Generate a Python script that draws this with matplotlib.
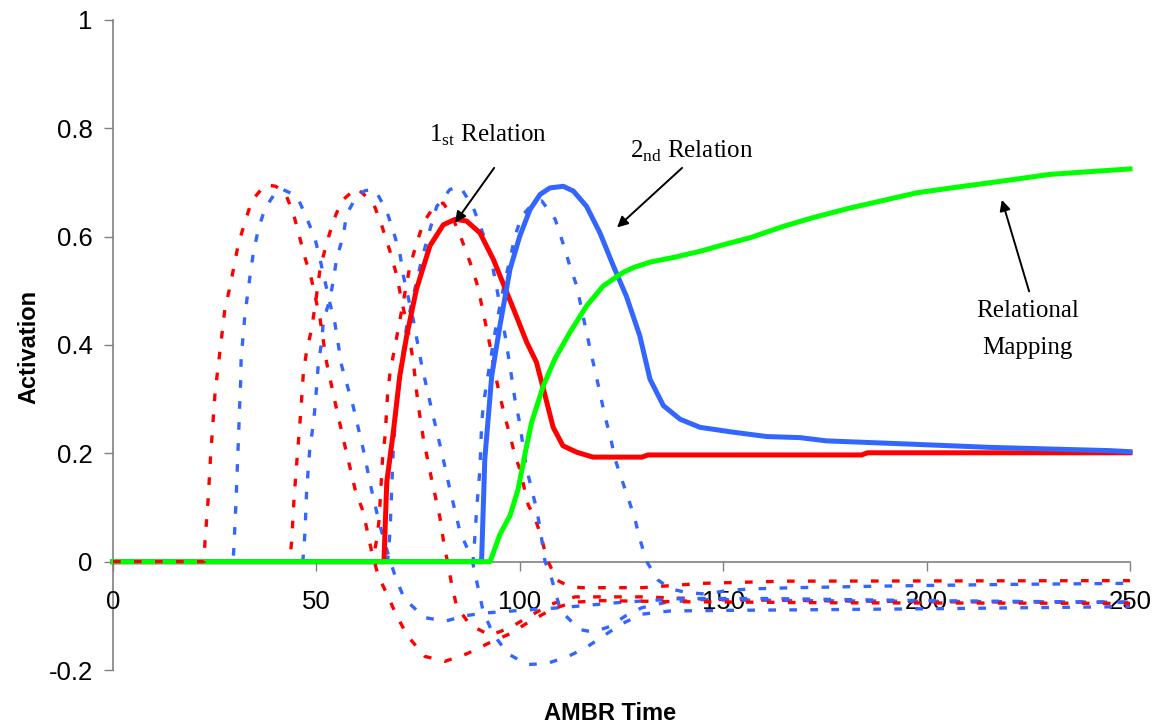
import matplotlib
matplotlib.use("Agg")
import matplotlib.pyplot as plt

# ---------------- data ----------------
# solid: 1st relation (red)
rel1_x = [0, 66.6, 67.3, 68.9, 70.5, 72.2, 74.6, 77.9, 81.2, 84.1, 86.9, 90.2, 93.5, 96.8,
          98.8, 101.7, 104.1, 105.8, 108.2, 110.6, 114.0, 118.0, 130.0, 131.5, 184.0, 185.5, 250]
rel1_y = [0, 0, 0.147, 0.239, 0.343, 0.417, 0.503, 0.583, 0.622, 0.632, 0.629, 0.607, 0.558, 0.497,
          0.460, 0.405, 0.368, 0.319, 0.248, 0.214, 0.202, 0.193, 0.193, 0.197, 0.197, 0.201, 0.201]

# solid: 2nd relation (blue)
rel2_x = [0, 90.6, 91.4, 93.1, 95.1, 97.6, 100.0, 102.5, 105.0, 107.4, 110.7, 113.2, 116.4, 119.7,
          123.0, 126.2, 129.5, 132.0, 135.3, 139.4, 144.3, 152.5, 160.7, 168.9, 175.4, 196.0, 215.6,
          245.0, 250]
rel2_y = [0, 0, 0.190, 0.343, 0.435, 0.540, 0.601, 0.650, 0.678, 0.690, 0.693, 0.684, 0.656, 0.607,
          0.546, 0.490, 0.417, 0.337, 0.288, 0.263, 0.248, 0.239, 0.231, 0.229, 0.223, 0.217, 0.211,
          0.205, 0.203]

# solid: relational mapping (green)
map_x = [0, 92.7, 95.1, 97.6, 99.6, 101.3, 102.9, 105.8, 108.6, 112.3, 116.4, 120.5, 125.4, 128.0,
         132.0, 138.0, 144.3, 150.0, 156.6, 164.8, 172.0, 181.2, 190.0, 197.6, 208.0, 218.0, 230.3,
         240.0, 250]
map_y = [0, 0, 0.050, 0.085, 0.134, 0.200, 0.257, 0.325, 0.374, 0.423, 0.472, 0.509, 0.534, 0.543,
         0.553, 0.562, 0.573, 0.585, 0.598, 0.619, 0.635, 0.653, 0.668, 0.681, 0.692, 0.702, 0.715,
         0.720, 0.725]

# dotted red candidates
r1_x = [0, 22.4, 22.6, 23.4, 24.0, 25.1, 26.3, 27.5, 28.8, 30.8, 32.4, 34.1, 37.4, 40.0, 42.3, 44.3,
        47.2, 48.8, 50.9, 52.5, 54.6, 57.0, 59.5, 61.5, 63.6, 65.2, 67.6, 69.8, 72.5, 76.7, 81.6, 87.0,
        92.2, 97.6, 102.5, 107.9, 113.0, 120.0, 140.0, 180.0, 250]
r1_y = [0, 0, 0.036, 0.116, 0.196, 0.313, 0.389, 0.466, 0.509, 0.586, 0.626, 0.666, 0.696, 0.693,
        0.681, 0.644, 0.561, 0.521, 0.448, 0.368, 0.294, 0.214, 0.134, 0.092, 0.018, -0.026, -0.064,
        -0.101, -0.138, -0.175, -0.184, -0.170, -0.151, -0.133, -0.110, -0.088, -0.075, -0.072,
        -0.074, -0.076, -0.077]

r2_x = [0, 43.4, 43.9, 44.5, 45.3, 46.1, 46.8, 47.6, 48.8, 49.9, 51.0, 52.5, 54.0, 56.2, 59.9, 64.0,
        66.0, 68.0, 69.7, 71.0, 72.5, 73.8, 75.0, 76.3, 78.3, 80.4, 81.3, 82.4, 83.3, 84.5, 87.8, 92.7,
        97.6, 102.5, 107.9, 113.6, 130.0, 150.0, 200.0, 250]
r2_y = [0, 0, 0.036, 0.116, 0.196, 0.270, 0.349, 0.389, 0.429, 0.484, 0.546, 0.586, 0.626, 0.666,
        0.690, 0.662, 0.622, 0.575, 0.530, 0.480, 0.430, 0.370, 0.290, 0.227, 0.153, 0.080, 0.035,
        -0.007, -0.044, -0.083, -0.117, -0.136, -0.122, -0.100, -0.078, -0.065, -0.065, -0.070,
        -0.074, -0.075]

r3_x = [0, 63.8, 64.8, 65.4, 66.3, 66.9, 67.5, 68.1, 70.1, 73.0, 74.7, 76.3, 78.7, 80.4, 81.2, 83.5,
        85.7, 87.8, 89.4, 90.6, 91.7, 92.7, 93.7, 95.1, 96.6, 97.6, 98.8, 100.0, 102.1, 103.7, 105.4,
        106.6, 109.1, 112.0, 115.0, 130.0, 145.0, 165.0, 250]
r3_y = [0, 0, 0.040, 0.076, 0.195, 0.233, 0.309, 0.349, 0.429, 0.546, 0.589, 0.626, 0.653, 0.660,
        0.662, 0.635, 0.595, 0.552, 0.515, 0.475, 0.435, 0.398, 0.355, 0.306, 0.260, 0.233, 0.196,
        0.171, 0.104, 0.082, 0.042, 0.006, -0.034, -0.045, -0.048, -0.048, -0.040, -0.036, -0.035]

# dotted blue candidates
b1_x = [0, 29.5, 29.7, 30.2, 30.6, 30.8, 31.2, 31.4, 31.5, 32.0, 32.4, 33.1, 33.8, 34.5, 35.7, 37.4,
        40.2, 41.5, 45.2, 47.6, 49.7, 50.9, 52.1, 53.3, 54.6, 56.2, 59.1, 61.5, 63.6, 65.5, 67.7, 69.5,
        71.6, 76.5, 81.6, 86.5, 91.0, 100.0, 110.0, 125.0, 140.0, 160.0, 200.0, 250]
b1_y = [0, 0, 0.024, 0.104, 0.180, 0.220, 0.300, 0.337, 0.377, 0.417, 0.454, 0.494, 0.534, 0.570,
        0.613, 0.653, 0.684, 0.688, 0.675, 0.635, 0.595, 0.558, 0.518, 0.478, 0.438, 0.362, 0.285,
        0.208, 0.131, 0.070, 0.012, -0.030, -0.068, -0.103, -0.110, -0.100, -0.095, -0.090, -0.085,
        -0.075, -0.068, -0.068, -0.072, -0.075]

b2_x = [0, 46.6, 46.8, 47.2, 47.6, 48.0, 48.4, 49.2, 49.7, 50.5, 51.3, 51.7, 53.3, 54.2, 55.0, 56.6,
        57.4, 59.9, 62.0, 64.4, 67.3, 68.9, 70.5, 71.4, 73.8, 75.9, 78.3, 80.8, 82.8, 85.3, 88.2, 91.0,
        93.4, 97.1, 101.8, 106.7, 111.8, 116.0, 121.0, 125.0, 130.0, 137.0, 150.0, 200.0, 250]
b2_y = [0, 0, 0.012, 0.055, 0.131, 0.171, 0.211, 0.251, 0.288, 0.368, 0.405, 0.444, 0.484, 0.521,
        0.561, 0.601, 0.641, 0.675, 0.685, 0.687, 0.647, 0.610, 0.570, 0.527, 0.447, 0.362, 0.282,
        0.202, 0.134, 0.055, 0.006, -0.092, -0.133, -0.170, -0.190, -0.188, -0.175, -0.160, -0.135,
        -0.115, -0.097, -0.091, -0.090, -0.087, -0.083]

b3_x = [0, 67.5, 68.1, 68.9, 69.7, 71.0, 72.2, 73.8, 75.9, 77.9, 79.6, 82.8, 85.3, 88.6, 92.7, 94.7,
        96.4, 97.6, 98.8, 100.0, 100.9, 101.7, 102.9, 104.1, 105.0, 106.2, 107.4, 110.0, 114.6, 118.0,
        122.0, 126.0, 130.0, 136.0, 145.0, 170.0, 250]
b3_y = [0, 0, 0.055, 0.208, 0.288, 0.368, 0.435, 0.490, 0.558, 0.613, 0.656, 0.687, 0.693, 0.653,
        0.570, 0.490, 0.417, 0.360, 0.300, 0.255, 0.208, 0.171, 0.134, 0.098, 0.061, 0.000, -0.020,
        -0.090, -0.125, -0.130, -0.120, -0.100, -0.085, -0.075, -0.070, -0.072, -0.075]

b4_x = [0, 88.5, 89.0, 89.4, 89.8, 90.2, 90.6, 91.0, 91.9, 92.7, 93.5, 94.3, 96.4, 97.6, 98.8, 100.5,
        102.5, 105.4, 108.7, 110.7, 112.3, 114.0, 115.2, 117.3, 119.7, 120.9, 122.2, 123.4, 125.0,
        126.7, 128.3, 129.5, 131.2, 134.0, 137.0, 141.0, 146.0, 151.0, 158.0, 168.0, 190.0, 220.0, 250]
b4_y = [0, 0, 0.050, 0.098, 0.134, 0.171, 0.251, 0.288, 0.331, 0.368, 0.405, 0.441, 0.521, 0.558,
        0.601, 0.638, 0.655, 0.666, 0.632, 0.586, 0.546, 0.509, 0.466, 0.392, 0.312, 0.269, 0.233,
        0.190, 0.153, 0.116, 0.079, 0.042, 0.000, -0.034, -0.050, -0.057, -0.060, -0.053, -0.050,
        -0.048, -0.045, -0.042, -0.040]

x_ticks = [0, 50, 100, 150, 200, 250]
y_ticks = [-0.2, 0, 0.2, 0.4, 0.6, 0.8, 1]
y_tick_labels = ["-0.2", "0", "0.2", "0.4", "0.6", "0.8", "1"]

# ---------------- drawing ----------------
RED = "#FF0000"
BLUE = "#3366FF"
GREEN = "#00FF00"
AXIS_GRAY = "#808080"
SANS = ["Liberation Sans", "DejaVu Sans"]
SERIF = ["Liberation Serif", "DejaVu Serif"]

W, H = 1158, 727
fig = plt.figure(figsize=(W / 100, H / 100), dpi=100)
left, right, top, bottom = 113, 1130, 20, 670
ax = fig.add_axes([left / W, 1 - bottom / H, (right - left) / W, (bottom - top) / H])
ax.set_xlim(0, 250)
ax.set_ylim(-0.2, 1)

dot = (0, (2.3, 4.0))
dlw = 2.4
for xs, ys, c in [(r2_x, r2_y, RED), (r3_x, r3_y, RED),
                  (b1_x, b1_y, BLUE), (b2_x, b2_y, BLUE), (b3_x, b3_y, BLUE), (b4_x, b4_y, BLUE)]:
    ax.plot(xs, ys, color=c, lw=dlw, linestyle=dot, zorder=2, clip_on=False)

ax.plot(rel1_x, rel1_y, color=RED, lw=3.6, zorder=3, clip_on=False, solid_joinstyle="round")
ax.plot(rel2_x, rel2_y, color=BLUE, lw=3.6, zorder=3, clip_on=False, solid_joinstyle="round")
ax.plot(map_x, map_y, color=GREEN, lw=3.6, zorder=4, clip_on=False, solid_joinstyle="round")
ax.plot(r1_x, r1_y, color=RED, lw=dlw, linestyle=dot, zorder=5, clip_on=False)

# axes styling
for s in ["top", "right"]:
    ax.spines[s].set_visible(False)
ax.spines["bottom"].set_position(("data", 0))
for s in ["left", "bottom"]:
    ax.spines[s].set_color(AXIS_GRAY)
    ax.spines[s].set_linewidth(1.2)
    ax.spines[s].set_zorder(1)

ax.set_xticks(x_ticks)
ax.set_xticklabels([str(t) for t in x_ticks])
ax.set_yticks(y_ticks)
ax.set_yticklabels(y_tick_labels)
ax.tick_params(axis="both", direction="out", length=6.5, width=1.0, color=AXIS_GRAY,
               labelsize=18.5, labelcolor="black")
ax.tick_params(axis="x", pad=14)
ax.tick_params(axis="y", pad=8)
for lab in ax.get_xticklabels() + ax.get_yticklabels():
    lab.set_fontfamily(SANS)

# axis titles
fig.text(29 / W, 1 - 347 / H, "Activation", rotation=90, ha="center", va="center",
         fontsize=17, fontweight="bold", family=SANS)
fig.text(610 / W, 1 - 714 / H, "AMBR Time", ha="center", va="center",
         fontsize=17, fontweight="bold", family=SANS)

# annotations
ax.text(77.7, 0.775, r"1$_{\mathregular{st}}$ Relation", fontsize=18, family=SERIF, va="baseline")
ax.text(127.1, 0.746, r"2$_{\mathregular{nd}}$ Relation", fontsize=18, family=SERIF, va="baseline")
ax.text(224.9, 0.451, "Relational", fontsize=18, family=SERIF, ha="center", va="baseline")
ax.text(224.9, 0.383, "Mapping", fontsize=18, family=SERIF, ha="center", va="baseline")

arrow = dict(arrowstyle="-|>", color="black", lw=1.4, mutation_scale=16, shrinkA=0, shrinkB=0)
ax.annotate("", xy=(84.1, 0.626), xytext=(93.7, 0.727), arrowprops=arrow)
ax.annotate("", xy=(123.9, 0.617), xytext=(139.9, 0.727), arrowprops=arrow)
ax.annotate("", xy=(218.5, 0.668), xytext=(225.2, 0.499), arrowprops=arrow)

fig.savefig("out.png", dpi=100)
